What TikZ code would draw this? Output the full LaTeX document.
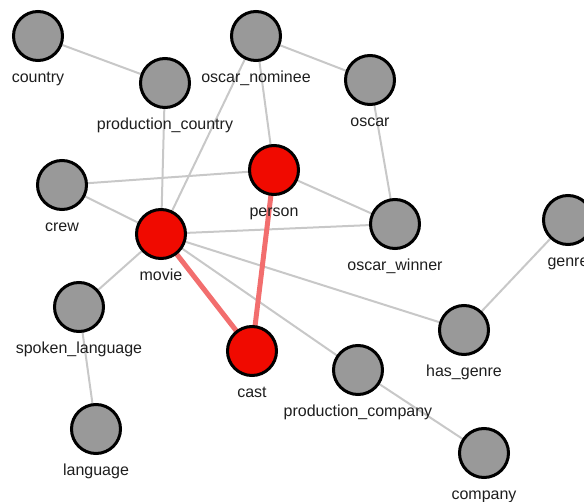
\documentclass[tikz,border=0pt]{standalone}
\usepackage{fontspec}
\setmainfont{Liberation Sans}
\usetikzlibrary{backgrounds}
\definecolor{nodegray}{RGB}{153,153,153}
\definecolor{nodered}{RGB}{240,10,0}
\definecolor{edgegray}{RGB}{200,200,200}
\definecolor{edgered}{RGB}{242,110,110}
\definecolor{txt}{RGB}{30,30,30}
\tikzset{
  gnode/.style={circle, draw=black, line width=3pt, fill=nodegray, minimum size=49pt, inner sep=0pt},
  rnode/.style={gnode, fill=nodered},
  lbl/.style={anchor=base, inner sep=0pt, text=txt, font=\fontsize{16}{19}\selectfont},
  edge/.style={draw=edgegray, line width=2pt},
  redge/.style={draw=edgered, line width=5pt},
}
\newcommand{\gn}[5]{%
  \node[#5] (#1) at (#2,#3) {};
  \node[lbl] (#1-l) at (#2,#3+46.5) {#4};
}
\begin{document}
\begin{tikzpicture}[x=1pt,y=-1pt]
\useasboundingbox (0,0) rectangle (584,502);
\gn{country}{38}{36}{country}{gnode}
\gn{prodcountry}{165}{83}{production\_country}{gnode}
\gn{nominee}{256}{36}{oscar\_nominee}{gnode}
\gn{oscar}{370}{80}{oscar}{gnode}
\gn{person}{274}{170}{person}{rnode}
\gn{crew}{62}{185}{crew}{gnode}
\gn{movie}{161}{234}{movie}{rnode}
\gn{winner}{395}{224}{oscar\_winner}{gnode}
\gn{genre}{568}{220}{genre}{gnode}
\gn{spoken}{79}{307}{spoken\_language}{gnode}
\gn{cast}{252}{351}{cast}{rnode}
\gn{hasgenre}{464}{330}{has\_genre}{gnode}
\gn{prodcompany}{358}{370}{production\_company}{gnode}
\gn{language}{96}{429}{language}{gnode}
\gn{company}{484}{453}{company}{gnode}
\begin{scope}[on background layer]
  \draw[edge] (country.center) -- (prodcountry.center);
  \draw[edge] (prodcountry.center) -- (movie.center);
  \draw[edge] (nominee.center) -- (movie.center);
  \draw[edge] (nominee.center) -- (oscar.center);
  \draw[edge] (nominee.center) -- (person.center);
  \draw[edge] (oscar.center) -- (winner.center);
  \draw[edge] (person.center) -- (winner.center);
  \draw[edge] (crew.center) -- (person.center);
  \draw[edge] (crew.center) -- (movie.center);
  \draw[edge] (movie.center) -- (winner.center);
  \draw[edge] (movie.center) -- (spoken.center);
  \draw[edge] (movie.center) -- (hasgenre.center);
  \draw[edge] (movie.center) -- (prodcompany.center);
  \draw[edge] (spoken.center) -- (language.center);
  \draw[edge] (hasgenre.center) -- (genre.center);
  \draw[edge] (prodcompany.center) -- (company.center);
  \draw[redge] (movie.center) -- (cast.center);
  \draw[redge] (person.center) -- (cast.center);
\end{scope}
\end{tikzpicture}
\end{document}
